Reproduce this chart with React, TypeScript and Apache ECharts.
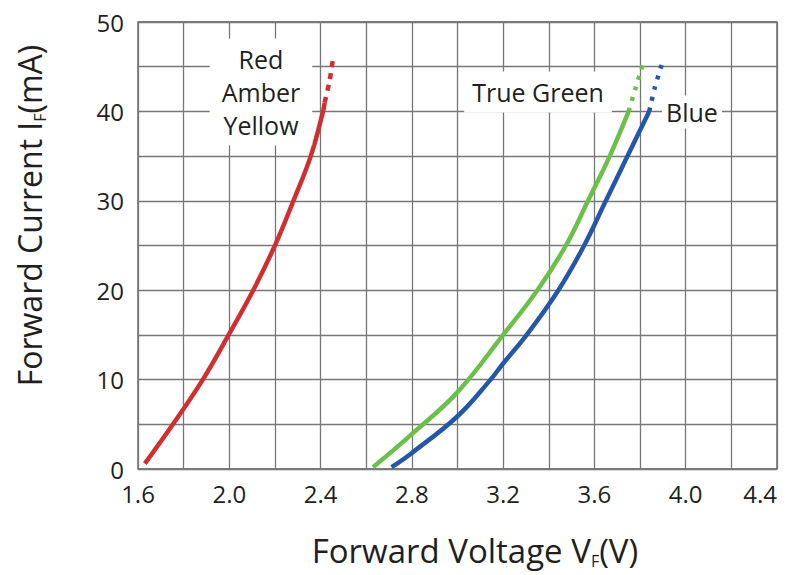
import React, { useEffect, useRef } from "react";
import * as echarts from "echarts";

// Forward voltage (V) vs forward current (mA)
const redSolid: [number, number][] = [
  [1.63, 0.6], [1.753, 5], [1.884, 10], [1.997, 15], [2.105, 20], [2.2, 25],
  [2.281, 30], [2.357, 35], [2.411, 40], [2.418, 41],
];
const redDashed: [number, number][] = [[2.418, 41], [2.44, 43.5], [2.455, 46]];

const greenSolid: [number, number][] = [
  [2.63, 0.2], [2.8, 3.9], [3.0, 8.6], [3.2, 15], [3.35, 20], [3.475, 25],
  [3.572, 30], [3.667, 35], [3.75, 40],
];
const greenDashed: [number, number][] = [[3.75, 40], [3.78, 42.6], [3.813, 45.3]];

const blueSolid: [number, number][] = [
  [2.711, 0.2], [2.8, 1.8], [3.0, 5.9], [3.145, 10], [3.2, 11.8], [3.303, 15],
  [3.442, 20], [3.555, 25], [3.65, 30], [3.745, 35], [3.84, 40],
];
const blueDashed: [number, number][] = [[3.84, 40], [3.865, 42.7], [3.896, 45.3]];

const xRange = [1.6, 4.4];
const yRange = [0, 50];

const FONT = '"Open Sans", "Noto Sans", sans-serif';
const TEXT = "#231f20";
const GRIDC = "#777777";
const RED = "#d12f2f";
const GREEN = "#6cc04a";
const BLUE = "#2556a8";

export default function App() {
  const ref = useRef<HTMLDivElement>(null);
  useEffect(() => {
    const chart = echarts.init(ref.current!, null, { renderer: "svg" });
    const solid = (name: string, data: [number, number][], color: string) => ({
      type: "line",
      name,
      data,
      smooth: 0.4,
      showSymbol: false,
      symbol: "none",
      lineStyle: { color, width: 4.5, cap: "butt" },
      z: 3,
    });
    const dashed = (name: string, data: [number, number][], color: string, dash: number[]) => ({
      type: "line",
      name,
      data,
      smooth: 0.3,
      showSymbol: false,
      symbol: "none",
      lineStyle: { color, width: 4.5, type: dash, cap: "butt" },
      z: 3,
    });
    chart.setOption({
      animation: false,
      backgroundColor: "#ffffff",
      grid: {
        left: 138,
        right: 12,
        top: 22,
        bottom: 106,
        show: true,
        borderColor: "#555",
        borderWidth: 1.3,
        outerBoundsMode: "none",
        containLabel: false,
      },
      xAxis: {
        type: "value",
        min: xRange[0],
        max: xRange[1],
        interval: 0.4,
        axisLine: { show: false },
        axisTick: { show: false },
        splitLine: { show: true, lineStyle: { color: GRIDC, width: 1.3 } },
        minorTick: { show: false, splitNumber: 2 },
        minorSplitLine: { show: true, lineStyle: { color: GRIDC, width: 1.3 } },
        axisLabel: {
          formatter: (v: number) => v.toFixed(1),
          fontSize: 24,
          fontFamily: FONT,
          color: TEXT,
          margin: 12,
          alignMaxLabel: "right",
        },
        name: "Forward Voltage V{sub|F}(V)",
        nameLocation: "middle",
        nameGap: 62,
        nameTextStyle: {
          fontSize: 33,
          fontFamily: FONT,
          color: TEXT,
          lineHeight: 38,
          padding: [0, 0, 0, 35],
          rich: {
            sub: { fontSize: 16, fontFamily: FONT, color: TEXT, verticalAlign: "bottom", lineHeight: 16 },
          },
        },
      },
      yAxis: {
        type: "value",
        min: yRange[0],
        max: yRange[1],
        interval: 10,
        axisLine: { show: false },
        axisTick: { show: false },
        splitLine: { show: true, lineStyle: { color: GRIDC, width: 1.3 } },
        minorTick: { show: false, splitNumber: 2 },
        minorSplitLine: { show: true, lineStyle: { color: GRIDC, width: 1.3 } },
        axisLabel: {
          fontSize: 24,
          fontFamily: FONT,
          color: TEXT,
          margin: 14,
        },
        name: "Forward Current I{sub|F}(mA)",
        nameLocation: "middle",
        nameRotate: 90,
        nameGap: 90,
        nameTextStyle: {
          fontSize: 32,
          fontFamily: FONT,
          color: TEXT,
          lineHeight: 38,
          padding: [0, 0, 0, 60],
          rich: {
            sub: { fontSize: 16, fontFamily: FONT, color: TEXT, verticalAlign: "bottom", lineHeight: 16 },
          },
        },
      },
      graphic: [
        {
          type: "text",
          z: 10,
          style: {
            text: "Red\nAmber\nYellow",
            x: 261,
            y: 92,
            align: "center",
            verticalAlign: "middle",
            fontSize: 25,
            fontFamily: FONT,
            fill: TEXT,
            lineHeight: 33,
            backgroundColor: "#ffffff",
            padding: [4, 12],
          },
        },
        {
          type: "text",
          z: 10,
          style: {
            text: "True Green",
            x: 538,
            y: 92,
            align: "center",
            verticalAlign: "middle",
            fontSize: 25,
            fontFamily: FONT,
            fill: TEXT,
            backgroundColor: "#ffffff",
            padding: [8, 8],
          },
        },
        {
          type: "text",
          z: 10,
          style: {
            text: "Blue",
            x: 692,
            y: 112,
            align: "center",
            verticalAlign: "middle",
            fontSize: 25,
            fontFamily: FONT,
            fill: TEXT,
            backgroundColor: "#ffffff",
            padding: [4, 4],
          },
        },
      ],
      series: [
        solid("Red Amber Yellow", redSolid, RED),
        dashed("Red Amber Yellow (ext)", redDashed, RED, [6, 6]),
        solid("True Green", greenSolid, GREEN),
        dashed("True Green (ext)", greenDashed, GREEN, [4, 7]),
        solid("Blue", blueSolid, BLUE),
        dashed("Blue (ext)", blueDashed, BLUE, [4, 7]),
      ],
    });
    return () => chart.dispose();
  }, []);
  return (
    <div
      ref={ref}
      style={{ position: "fixed", left: 0, top: 0, width: 789, height: 575 }}
    />
  );
}
